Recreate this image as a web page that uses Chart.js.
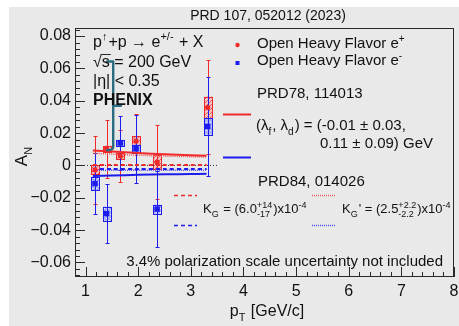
<!DOCTYPE html>
<html>
<head>
<meta charset="utf-8">
<script src="https://cdn.jsdelivr.net/npm/chart.js@4"></script>
<style>
  html, body { margin: 0; padding: 0; background: #fff; }
  canvas { display: block; }
</style>
</head>
<body>
<canvas id="an" width="459" height="326"></canvas>
<script>
// pT bin centres, shared by e+ and e-
const ptBins = [1.18, 1.40, 1.66, 1.96, 2.36, 3.32];

// e+ : A_N, statistical error, systematic error
const anPlus    = [-0.0028, 0.0104, 0.0059, 0.0150, 0.0020, 0.0359];
const statPlus  = [0.021, 0.018, 0.016, 0.017, 0.023, 0.029];
const systPlus  = [0.0028, 0.0018, 0.0019, 0.0030, 0.0043, 0.0067];

// e- : A_N, statistical error, systematic error
const anMinus   = [-0.0112, -0.0298, 0.0139, 0.0103, -0.0270, 0.0241];
const statMinus = [0.019, 0.0183, 0.0165, 0.021, 0.0234, 0.0306];
const systMinus = [0.0040, 0.0044, 0.0020, 0.0026, 0.0028, 0.0052];

// theory curves
const modelPt      = [1.14, 1.5, 2.0, 2.5, 3.0, 3.3];
const lambdaPlus   = [0.0093, 0.0086, 0.0077, 0.0069, 0.0063, 0.0060];
const lambdaMinus  = [-0.0065, -0.0062, -0.0058, -0.0055, -0.0053, -0.0052];
const kgPlus       = [0.0003, 0.0003, 0.0003, 0.0003, 0.0003, 0.0003];
const kgMinus      = [-0.0022, -0.0022, -0.0022, -0.0022, -0.0022, -0.0022];
const kgPrimePlus  = [0.0075, 0.0070, 0.0063, 0.0058, 0.0054, 0.0052];
const kgPrimeMinus = [-0.0030, -0.0030, -0.0030, -0.0030, -0.0030, -0.0030];

// zero reference line
const zeroPt = [0.8, 3.5];
const zeroAn = [0, 0];

// brace next to the label block (last point ends the bottom hook)
const bracePt = [1.41, 1.526, 1.526, 1.672, 1.526, 1.526, 1.41];
const braceAn = [0.0643, 0.0643, 0.0369, 0.0369, 0.0369, 0.0112, 0.0094];

const xTicks = [1, 2, 3, 4, 5, 6, 7, 8];
const yTicks = [-0.06, -0.04, -0.02, 0, 0.02, 0.04, 0.06, 0.08];

const FONT = '"Liberation Sans", Arial, Helvetica, sans-serif';
const RED = '#f02a2a';
const BLUE = '#1c1cf0';

function pts(xs, ys) { return xs.map((x, i) => ({ x: x, y: ys[i] })); }

function curve(ys, color, dash) {
  return {
    type: 'line', data: pts(modelPt, ys), borderColor: color, borderWidth: 2,
    borderDash: dash, pointRadius: 0, fill: false, tension: 0.3
  };
}

// small fill patterns for the systematic boxes
function tile(bg, fg, diag) {
  const c = document.createElement('canvas');
  c.width = c.height = 4;
  const g = c.getContext('2d');
  g.fillStyle = bg; g.fillRect(0, 0, 4, 4);
  if (diag) {
    g.strokeStyle = fg; g.lineWidth = 1;
    g.beginPath(); g.moveTo(-1, 5); g.lineTo(5, -1); g.stroke();
  } else {
    g.fillStyle = fg; g.fillRect(0, 0, 1, 1); g.fillRect(2, 2, 1, 1);
  }
  return c;
}
const redTile = tile('#f6c4c4', '#e86060', true);
const blueTile = tile('#a9b0f4', '#eef0ff', false);

// text with super/subscripts; parts are strings or {sup, sub}
function rich(ctx, x, y, parts, size, bold) {
  let cx = x;
  const small = Math.round(size * 0.66);
  ctx.textBaseline = 'alphabetic';
  ctx.textAlign = 'left';
  for (const p of parts) {
    if (typeof p === 'string') {
      ctx.font = (bold ? 'bold ' : '') + size + 'px ' + FONT;
      ctx.fillText(p, cx, y);
      cx += ctx.measureText(p).width;
    } else {
      ctx.font = small + 'px ' + FONT;
      let w = 0;
      if (p.sup) { ctx.fillText(p.sup, cx, y - size * 0.42); w = ctx.measureText(p.sup).width; }
      if (p.sub) { ctx.fillText(p.sub, cx, y + size * 0.3); w = Math.max(w, ctx.measureText(p.sub).width); }
      cx += w + 1;
    }
  }
  return cx;
}

function richWidth(ctx, parts, size, bold) {
  ctx.save(); ctx.globalAlpha = 0;
  const w = rich(ctx, 0, 0, parts, size, bold);
  ctx.restore();
  return w;
}

function drawErrors(ctx, xs, ys, an, stat, syst, color, tileCanvas) {
  const pat = ctx.createPattern(tileCanvas, 'repeat');
  ptBins.forEach((pt, i) => {
    const px = Math.round(xs.getPixelForValue(pt)) + 0.5;
    const y1 = ys.getPixelForValue(an[i] + syst[i]);
    const y2 = ys.getPixelForValue(an[i] - syst[i]);
    ctx.fillStyle = pat;
    ctx.fillRect(px - 4, y1, 8, y2 - y1);
    ctx.strokeStyle = color; ctx.lineWidth = 1;
    ctx.strokeRect(px - 4, Math.round(y1) + 0.5, 8, Math.round(y2 - y1));
    const t = Math.round(ys.getPixelForValue(an[i] + stat[i])) + 0.5;
    const b = Math.round(ys.getPixelForValue(an[i] - stat[i])) + 0.5;
    ctx.beginPath();
    ctx.moveTo(px, t); ctx.lineTo(px, b);
    ctx.moveTo(px - 2, t); ctx.lineTo(px + 2, t);
    ctx.moveTo(px - 2, b); ctx.lineTo(px + 2, b);
    ctx.stroke();
  });
}

function drawBrace(ctx, xs, ys) {
  const p = bracePt.map((x, i) => [xs.getPixelForValue(x), ys.getPixelForValue(braceAn[i])]);
  const n = p.length;
  ctx.strokeStyle = '#2b6c80'; ctx.lineWidth = 2.4;
  ctx.lineJoin = 'round'; ctx.lineCap = 'round';
  ctx.beginPath();
  ctx.moveTo(p[0][0], p[0][1]);
  for (let i = 1; i < n - 1; i++) ctx.lineTo(p[i][0], p[i][1]);
  // rounded hook into the last point
  ctx.quadraticCurveTo(p[n - 2][0], p[n - 1][1], p[n - 1][0], p[n - 1][1]);
  ctx.stroke();
}

function legendLine(ctx, x1, x2, y, color, dash, width) {
  ctx.save();
  ctx.strokeStyle = color; ctx.lineWidth = width; ctx.setLineDash(dash);
  ctx.beginPath(); ctx.moveTo(x1, y); ctx.lineTo(x2, y); ctx.stroke();
  ctx.restore();
}

const decor = {
  id: 'decor',
  beforeDraw(chart) {
    const ctx = chart.ctx;
    ctx.save();
    ctx.fillStyle = '#ffffff';
    ctx.fillRect(0, 0, chart.width, chart.height);
    ctx.fillStyle = '#e9e9e9';
    ctx.fillRect(9, 7, chart.width - 9, chart.height - 7);
    ctx.restore();
  },
  beforeDatasetsDraw(chart) {
    const ctx = chart.ctx, xs = chart.scales.x, ys = chart.scales.y;
    ctx.save();
    drawErrors(ctx, xs, ys, anPlus, statPlus, systPlus, RED, redTile);
    drawErrors(ctx, xs, ys, anMinus, statMinus, systMinus, BLUE, blueTile);
    ctx.restore();
  },
  afterDatasetsDraw(chart) {
    const ctx = chart.ctx;
    ctx.save();
    drawBrace(ctx, chart.scales.x, chart.scales.y);
    ctx.restore();
  },
  afterDraw(chart) {
    const ctx = chart.ctx, xs = chart.scales.x, ys = chart.scales.y;
    const { left, right, top, bottom } = chart.chartArea;
    ctx.save();

    // frame and inner ticks
    ctx.strokeStyle = '#2a2a2a'; ctx.lineWidth = 1;
    ctx.strokeRect(Math.round(left) + 0.5, Math.round(top) + 0.5,
                   Math.round(right - left) - 1, Math.round(bottom - top) - 1);
    ctx.beginPath();
    for (let k = 4; k <= 40; k++) {
      const px = Math.round(xs.getPixelForValue(k * 0.2)) + 0.5;
      const len = k % 5 === 0 ? 10 : 5;
      ctx.moveTo(px, bottom); ctx.lineTo(px, bottom - len);
    }
    for (let k = -17; k <= 21; k++) {
      const py = Math.round(ys.getPixelForValue(k * 0.004)) + 0.5;
      const len = k % 5 === 0 ? 10 : 5;
      ctx.moveTo(left, py); ctx.lineTo(left + len, py);
    }
    ctx.stroke();

    ctx.fillStyle = '#111';

    // header
    ctx.font = '14px ' + FONT;
    ctx.textAlign = 'center'; ctx.textBaseline = 'alphabetic';
    ctx.fillText('PRD 107, 052012 (2023)', 268, 20);

    // axis titles
    const xt = [ 'p', { sub: 'T' }, ' [GeV/c]' ];
    rich(ctx, 267 - richWidth(ctx, xt, 16) / 2, 316, xt, 16);
    ctx.save();
    ctx.translate(27, 156);
    ctx.rotate(-Math.PI / 2);
    const yt = [ 'A', { sub: 'N' } ];
    rich(ctx, -richWidth(ctx, yt, 17) / 2, 0, yt, 17);
    ctx.restore();

    // reaction block
    rich(ctx, 93, 47, [ 'p', { sup: '\u2191' }, '+p \u2192 e', { sup: '+/-' }, ' + X' ], 16);
    ctx.font = '16px ' + FONT; ctx.textAlign = 'left';
    ctx.fillText('\u221As = 200 GeV', 93, 67);
    const wr = ctx.measureText('\u221A').width, ws = ctx.measureText('s').width;
    ctx.beginPath(); ctx.moveTo(93 + wr - 1, 54.5); ctx.lineTo(93 + wr + ws + 1, 54.5); ctx.stroke();
    ctx.fillText('|\u03B7| < 0.35', 93, 86);
    ctx.font = 'bold 16px ' + FONT;
    ctx.fillText('PHENIX', 93, 105);

    // legend: data
    ctx.fillStyle = RED;
    ctx.beginPath(); ctx.arc(237.5, 45, 2.2, 0, Math.PI * 2); ctx.fill();
    ctx.fillStyle = BLUE;
    ctx.fillRect(235.5, 61, 4, 4);
    ctx.fillStyle = '#111';
    rich(ctx, 257, 48, [ 'Open Heavy Flavor e', { sup: '+' } ], 15);
    rich(ctx, 257, 65, [ 'Open Heavy Flavor e', { sup: '-' } ], 15);

    // legend: PRD78 fit
    rich(ctx, 257, 98, [ 'PRD78, 114013' ], 15);
    legendLine(ctx, 223, 251, 114.5, RED, [], 2);
    rich(ctx, 256, 130, [ '(\u03BB', { sub: 'f' }, ', \u03BB', { sub: 'd' }, ') = (-0.01 \u00B1 0.03,' ], 15);
    rich(ctx, 320, 148, [ '0.11 \u00B1 0.09) GeV' ], 15);
    legendLine(ctx, 223, 251, 157.5, BLUE, [], 2);

    // legend: PRD84 fits
    rich(ctx, 258, 186, [ 'PRD84, 014026' ], 15);
    legendLine(ctx, 174, 197, 195.5, RED, [4, 3], 1.5);
    legendLine(ctx, 174, 197, 225.5, BLUE, [4, 3], 1.5);
    legendLine(ctx, 312, 336, 195.5, '#ee5c5c', [1, 1], 1.5);
    legendLine(ctx, 312, 336, 225.5, '#4f4ff0', [1, 1], 1.5);
    ctx.fillStyle = '#111';
    rich(ctx, 203, 213, [ 'K', { sub: 'G' }, ' = (6.0', { sup: '+14', sub: '-17' }, ')x10', { sup: '-4' } ], 13);
    rich(ctx, 342, 213, [ 'K', { sub: 'G' }, '\' = (2.5', { sup: '+2.2', sub: '-2.2' }, ')x10', { sup: '-4' } ], 13);

    ctx.font = '15px ' + FONT; ctx.textAlign = 'right';
    ctx.fillText('3.4% polarization scale uncertainty not included', 443, 266);

    ctx.restore();
  }
};

new Chart(document.getElementById('an'), {
  type: 'scatter',
  data: {
    datasets: [
      { label: 'e+', data: pts(ptBins, anPlus), pointStyle: 'circle', pointRadius: 2.6,
        backgroundColor: RED, borderColor: RED, borderWidth: 0 },
      { label: 'e-', data: pts(ptBins, anMinus), pointStyle: 'rect', pointRadius: 3.9,
        backgroundColor: BLUE, borderColor: BLUE, borderWidth: 0 },
      curve(lambdaPlus, RED, []),
      curve(lambdaMinus, BLUE, []),
      curve(kgPlus, RED, [4, 3]),
      curve(kgMinus, BLUE, [4, 3]),
      Object.assign(curve(kgPrimePlus, '#ee5c5c', [1, 1]), { borderWidth: 1.5 }),
      Object.assign(curve(kgPrimeMinus, '#4f4ff0', [1, 1]), { borderWidth: 1.5 }),
      { type: 'line', data: pts(zeroPt, zeroAn), borderColor: '#333', borderWidth: 1,
        borderDash: [1, 2], pointRadius: 0, fill: false }
    ]
  },
  options: {
    responsive: false,
    animation: false,
    devicePixelRatio: 1,
    layout: { padding: { left: 9, top: 28, right: 5, bottom: 0 } },
    plugins: { legend: { display: false }, tooltip: { enabled: false } },
    scales: {
      x: {
        type: 'linear', min: 0.8, max: 8,
        afterBuildTicks: s => { s.ticks = xTicks.map(v => ({ value: v })); },
        afterFit: s => { s.height = 49; s.paddingLeft = 0; s.paddingRight = 0; },
        grid: { display: false, drawTicks: false },
        border: { display: false },
        ticks: { font: { family: FONT, size: 16 }, color: '#111', padding: 5, maxRotation: 0 }
      },
      y: {
        type: 'linear', min: -0.069, max: 0.085,
        afterBuildTicks: s => { s.ticks = yTicks.map(v => ({ value: v })); },
        afterFit: s => { s.width = 66; s.paddingTop = 0; s.paddingBottom = 0; },
        grid: { display: false, drawTicks: false },
        border: { display: false },
        ticks: {
          font: { family: FONT, size: 16 }, color: '#111', padding: 4,
          callback: v => Math.abs(v) < 1e-9 ? '0' : (v < 0 ? '\u2212' : '') + Math.abs(v).toFixed(2)
        }
      }
    }
  },
  plugins: [decor]
});
</script>
</body>
</html>
